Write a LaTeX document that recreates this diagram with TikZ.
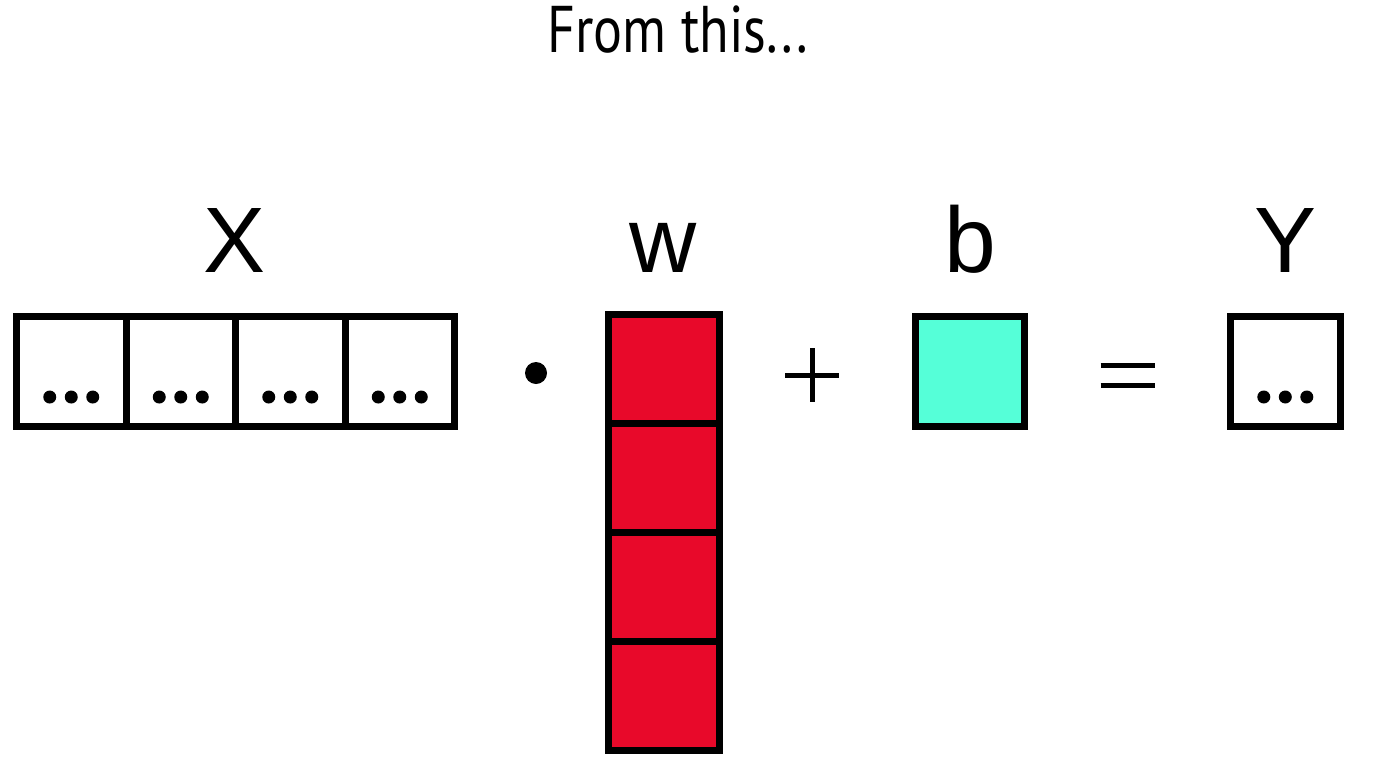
\documentclass[tikz,border=0pt]{standalone}
\usepackage{fontspec}
\setmainfont{Liberation Sans}
\newfontfamily\titlefont[FakeStretch=0.82]{PT Sans}
\usetikzlibrary{calc}
\definecolor{wred}{HTML}{E8092A}
\definecolor{bcyan}{HTML}{55FFD8}
\tikzset{
  cell/.style={draw=black, line width=7pt, minimum width=109.5pt, minimum height=110pt, inner sep=0pt, outer sep=0pt},
  wcell/.style={draw=black, fill=wred, line width=7pt, minimum width=111pt, minimum height=108.9pt, inner sep=0pt, outer sep=0pt},
  lbl/.style={font=\fontsize{93}{100}\selectfont, inner sep=0pt, anchor=base},
  op/.style={line width=5pt},
}
\newcommand{\threedots}[1]{%
  \fill ($(#1.center)+(-21.5,25.5)$) circle (6.5);
  \fill ($(#1.center)+(0,25.5)$) circle (6.5);
  \fill ($(#1.center)+(21.5,25.5)$) circle (6.5);
}
\begin{document}
\begin{tikzpicture}[x=1pt,y=-1pt]
\useasboundingbox (0,0) rectangle (1376,774);
\fill[white] (0,0) rectangle (1376,774);
% title
\node[font=\titlefont\fontsize{66}{70}\selectfont, inner sep=0pt, anchor=base] (title) at (678,52) {From this...};
% X
\foreach \i in {1,...,4} {
  \node[cell] (x\i) at ({16.5+109.5*(\i-0.5)},371.5) {};
  \threedots{x\i}
}
\node[lbl] (lx) at (235,272) {X};
% dot operator
\fill (536,373) circle (11) coordinate (dotop);
% w
\foreach \i in {1,...,4} {
  \node[wcell] (w\i) at (664,{314.5+108.9*(\i-0.5)}) {};
}
\node[lbl] (lw) at (663.5,272) {w};
% plus
\coordinate (plus) at (812,375);
\draw[op] ($(plus)+(-27,0)$) -- ($(plus)+(27,0)$);
\draw[op] ($(plus)+(0,-27)$) -- ($(plus)+(0,27)$);
% b
\node[cell, fill=bcyan] (bbox) at (970,371.7) {};
\node[lbl] (lb) at (970,272) {b};
% equals
\coordinate (eq) at (1127.5,375);
\draw[op] ($(eq)+(-27,-10)$) -- ($(eq)+(27,-10)$);
\draw[op] ($(eq)+(-27,10)$) -- ($(eq)+(27,10)$);
% Y
\node[cell, minimum width=110pt] (ybox) at (1285.3,371.5) {};
\threedots{ybox}
\node[lbl] (ly) at (1285,272) {Y};
\end{tikzpicture}
\end{document}
